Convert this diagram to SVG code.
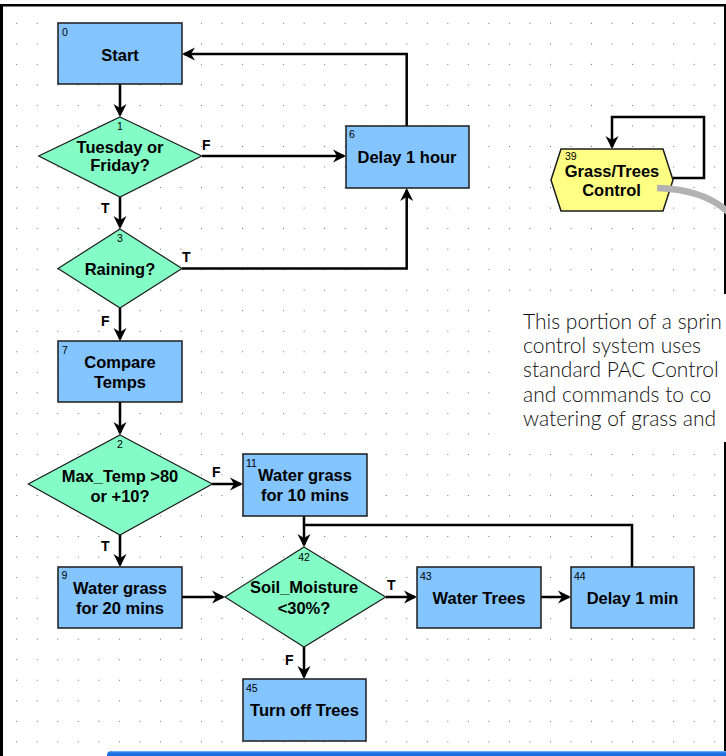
<svg xmlns="http://www.w3.org/2000/svg" width="726" height="756" viewBox="0 0 726 756">
<style>
.box{fill:#84C4FF;stroke:#1c1c1c;stroke-width:1.5}
.dia{fill:#84FCC6;stroke:#1c1c1c;stroke-width:1.2}
.hex{fill:#FFFF84;stroke:#1c1c1c;stroke-width:1.5}
.lbl{font-family:"Liberation Sans",Arial,sans-serif;font-weight:bold;font-size:16.5px;fill:#000;text-anchor:middle}
.num{font-family:"Liberation Sans",Arial,sans-serif;font-size:10.5px;fill:#000}
.tf{font-family:"Liberation Sans",Arial,sans-serif;font-weight:bold;font-size:14px;fill:#000}
.con{fill:none;stroke:#000;stroke-width:2.5}
.arr{marker-end:url(#ah)}
.note{font-family:Lato,"Open Sans","Liberation Sans",sans-serif;font-weight:300;font-size:21px;fill:#111}
</style>
<defs>
<pattern id="grid" patternUnits="userSpaceOnUse" x="16.2" y="22.8" width="20.53" height="20.53">
<rect x="0" y="0" width="1" height="1" fill="#6a6a6a"/>
</pattern>
<marker id="ah" viewBox="-15 -8 16 16" refX="-2" refY="0" markerWidth="16" markerHeight="16" markerUnits="userSpaceOnUse" orient="auto">
<path d="M0,0 L-13,-6.5 L-9,0 L-13,6.5 Z" fill="#000"/>
</marker>
</defs>
<rect x="0" y="0" width="726" height="756" fill="#fff"/>
<rect x="3" y="6" width="721" height="745" fill="url(#grid)"/>
<g id="frame">
<rect x="0" y="4" width="3" height="752" fill="#000"/>
<rect x="0" y="4" width="726" height="2.5" fill="#000"/>
<rect x="724" y="4" width="2" height="748" fill="#000"/>
</g>
<g id="note">
<rect x="504" y="294" width="222" height="148" fill="#fff"/>
<text class="note" x="523" y="329">This portion of a sprin</text>
<text class="note" x="523" y="353">control system uses</text>
<text class="note" x="523" y="377">standard PAC Control</text>
<text class="note" x="523" y="402">and commands to co</text>
<text class="note" x="523" y="426">watering of grass and</text>
</g>
<g id="connectors">
<path class="con arr" d="M120,84 V115"/>
<path class="con arr" d="M202,156 H344"/>
<path class="con arr" d="M406.7,126 V54 H184"/>
<path class="con arr" d="M120,197 V227"/>
<path class="con arr" d="M182,268.5 H406.7 V190"/>
<path class="con arr" d="M120,308 V339"/>
<path class="con arr" d="M120,402 V433"/>
<path class="con arr" d="M212,484 H241"/>
<path class="con arr" d="M120,535 V565"/>
<path class="con arr" d="M182,597 H223"/>
<path class="con arr" d="M304,516 V545"/>
<path class="con" d="M632,567 V525 H304"/>
<path class="con arr" d="M386,597 H415"/>
<path class="con arr" d="M541,597 H569"/>
<path class="con arr" d="M304,647 V677"/>
<path class="con arr" d="M673,178 H704 V117 H612 V147"/>
</g>
<g id="connector-labels">
<text class="tf" x="202" y="149.5">F</text>
<text class="tf" x="101" y="213">T</text>
<text class="tf" x="182" y="262">T</text>
<text class="tf" x="101" y="326">F</text>
<text class="tf" x="212" y="477">F</text>
<text class="tf" x="101" y="551">T</text>
<text class="tf" x="387" y="590">T</text>
<text class="tf" x="285" y="665">F</text>
</g>
<g id="n0">
<rect class="box" x="58" y="23" width="124" height="61"/>
<text class="num" x="62" y="36">0</text>
<text class="lbl" x="120" y="60.5">Start</text>
</g>
<g id="n1">
<path class="dia" d="M120,117 L201.7,156 L120,197 L38.7,156 Z"/>
<text class="num" x="120" y="130" text-anchor="middle">1</text>
<text class="lbl" x="120" y="153">Tuesday or</text>
<text class="lbl" x="120" y="170.5">Friday?</text>
</g>
<g id="n6">
<rect class="box" x="346" y="126" width="123" height="62"/>
<text class="num" x="349" y="138">6</text>
<text class="lbl" x="407" y="162.5">Delay 1 hour</text>
</g>
<g id="n3">
<path class="dia" d="M120,229 L182,268.5 L120,308 L58,268.5 Z"/>
<text class="num" x="120" y="242" text-anchor="middle">3</text>
<text class="lbl" x="120" y="274.5">Raining?</text>
</g>
<g id="n7">
<rect class="box" x="58" y="341" width="124" height="61"/>
<text class="num" x="62" y="354">7</text>
<text class="lbl" x="120" y="368.3">Compare</text>
<text class="lbl" x="120" y="388">Temps</text>
</g>
<g id="n2">
<path class="dia" d="M120,435 L212.3,484 L120,535 L28.3,484 Z"/>
<text class="num" x="120" y="448" text-anchor="middle">2</text>
<text class="lbl" x="120" y="481.5">Max_Temp &gt;80</text>
<text class="lbl" x="120" y="501.5">or +10?</text>
</g>
<g id="n11">
<rect class="box" x="243" y="454" width="124" height="62"/>
<text class="num" x="246" y="467">11</text>
<text class="lbl" x="305" y="480.5">Water grass</text>
<text class="lbl" x="305" y="500.5">for 10 mins</text>
</g>
<g id="n9">
<rect class="box" x="58" y="567" width="124" height="61"/>
<text class="num" x="61.5" y="579">9</text>
<text class="lbl" x="120" y="594">Water grass</text>
<text class="lbl" x="120" y="614">for 20 mins</text>
</g>
<g id="n42">
<path class="dia" d="M304,547 L385.7,597 L304,647 L225,597 Z"/>
<text class="num" x="304" y="561" text-anchor="middle">42</text>
<text class="lbl" x="304" y="593">Soil_Moisture</text>
<text class="lbl" x="304" y="613.5">&lt;30%?</text>
</g>
<g id="n43">
<rect class="box" x="417" y="567" width="124" height="61"/>
<text class="num" x="420" y="580">43</text>
<text class="lbl" x="479" y="604">Water Trees</text>
</g>
<g id="n44">
<rect class="box" x="571" y="567" width="123" height="61"/>
<text class="num" x="574" y="580">44</text>
<text class="lbl" x="632.5" y="604">Delay 1 min</text>
</g>
<g id="n45">
<rect class="box" x="243" y="679" width="123" height="62"/>
<text class="num" x="246" y="692">45</text>
<text class="lbl" x="304.5" y="716">Turn off Trees</text>
</g>
<g id="n39">
<path class="hex" d="M561,149 H663 L673,180 L663,211 H561 L551,180 Z"/>
<text class="num" x="565" y="160">39</text>
<text class="lbl" x="612" y="176.5">Grass/Trees</text>
<text class="lbl" x="611.5" y="196">Control</text>
</g>
<path id="link" d="M657,188 C690,189 712,197 728,212" fill="none" stroke="#b2b2b2" stroke-width="6.5"/>
<g id="bottom-bar">
<path d="M107,756 V755 Q107,751 112,751 H726 V756 Z" fill="#1c6fe0"/>
<path d="M109,752.5 Q110,751 113,751 H726 V752.2 H111 Z" fill="#6aaaf4"/>
</g>
</svg>
